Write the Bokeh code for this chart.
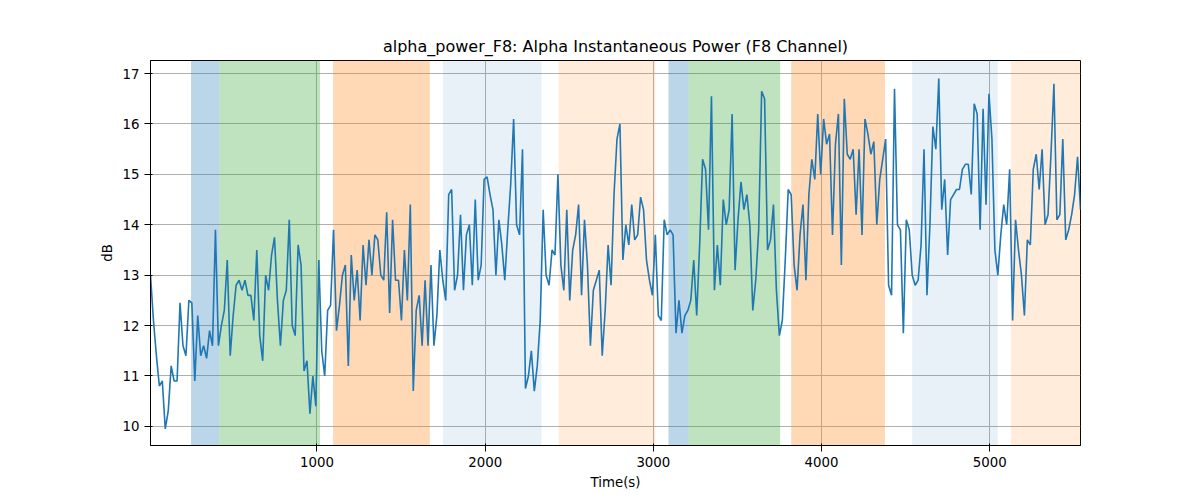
from bokeh.plotting import figure
from bokeh.models import BoxAnnotation, FixedTicker
from bokeh.embed import file_html
from bokeh.resources import INLINE
import numpy as np

values = [13.0,12.1,11.4,10.8,10.9, 9.95,10.3,11.2,10.9,10.9, 12.45,11.6,11.4,12.5,12.45,
 10.9,12.2,11.4,11.6,11.35, 11.9,11.6,13.9,11.6,12.0, 12.3,13.3,11.4,12.2,12.8,
 12.9,12.7,12.9,12.6,12.6, 12.1,13.5,11.8,11.3,13.0, 12.7,13.4,13.75,12.5,11.6,
 12.5,12.7,14.1,12.0,11.8, 13.6,13.2,11.1,11.3,10.25,11.0,10.4, 13.3,11.5,11.0,12.3,12.4,
 13.9,11.9,12.4,13.0,13.2, 11.2,13.4,12.5,13.1,12.1, 13.6,12.8,13.7,13.0,13.8,
 13.7,13.0,12.9,14.25,12.25, 14.1,12.9,12.9,12.1,13.5, 12.5,14.4,10.7,12.3,12.6,
 11.6,12.9,11.6,13.2,11.6, 12.2,13.5,12.9,12.5,14.6, 14.7,12.7,13.0,14.2,12.7,
 13.8,14.0,12.8,14.5,12.9, 13.2,14.9,14.95,14.6,14.3, 13.0,14.1,13.6,12.9,13.9,
 14.8,16.1,14.0,13.8,15.5, 10.75,11.0,11.5,10.7,11.2, 12.1,14.3,13.0,12.8,13.5,
 13.4,15.0,13.2,12.7,14.3, 12.5,13.5,13.8,14.4,12.6, 14.1,13.2,11.6,12.7,12.9,
 13.1,11.4,12.3,13.6,12.8, 14.6,15.7,16.0,13.3,14.0, 13.6,14.4,13.7,13.8,14.55,
 14.3,13.3,12.9,12.6,13.8, 12.2,12.1,14.1,13.8,13.9, 13.8,11.85,12.5,11.85,12.2,
 12.3,12.5,13.3,12.2,13.6, 15.3,15.1,13.9,16.55,12.7, 13.6,12.8,14.5,14.0,14.3,
 16.2,13.1,14.1,14.85,14.3, 14.6,14.0,12.3,12.9,13.9, 16.65,16.5,13.5,13.7,14.4,
 12.7,11.8,12.1,13.3,14.7, 14.6,13.2,12.7,13.8,14.4, 12.9,14.6,15.3,14.9,16.2,
 15.0,16.1,15.6,15.8,13.8, 15.6,16.2,13.2,16.5,15.4, 15.3,15.5,14.2,15.5,13.8,
 16.1,15.8,15.4,15.65,14.0, 14.9,15.3,15.7,12.8,12.6, 16.7,14.0,13.9,11.85,14.1,
 13.9,13.0,12.8,12.9,13.6, 15.5,12.6,14.0,15.95,15.5, 16.9,14.3,14.9,13.4,14.5,
 14.6,14.7,14.7,15.1,15.2, 15.2,14.6,16.4,16.2,13.9,16.3,14.4,16.6,15.7,13.5,13.0,
 13.8,14.4,14.0,15.1,12.1,14.1,13.5,13.0,12.2,13.7,13.6,15.1,15.4,14.7,15.5,14.0,
 14.2,15.4,16.8,14.1,14.2,15.7,13.7,13.9,14.2,14.6,15.35,14.3]
times = np.linspace(10, 5540, len(values))

spans = [(251, 419, "#1f77b4", 0.3), (419, 1018, "#2ca02c", 0.3), (1096, 1671, "#ff7f0e", 0.3),
         (1749, 2335, "#1f77b4", 0.1), (2437, 3012, "#ff7f0e", 0.15), (3090, 3210, "#1f77b4", 0.3),
         (3210, 3754, "#2ca02c", 0.3), (3820, 4377, "#ff7f0e", 0.3), (4539, 5048, "#1f77b4", 0.1),
         (5126, 5570, "#ff7f0e", 0.15)]

p = figure(width=1184, height=492, output_backend="svg", toolbar_location=None,
           x_range=(10, 5540), y_range=(9.62, 17.26),
           title="alpha_power_F8: Alpha Instantaneous Power (F8 Channel)",
           x_axis_label="Time(s)", y_axis_label="dB",
           min_border_left=150, min_border_right=104, min_border_top=60, min_border_bottom=31)
p.title.align = "center"
p.title.text_font_style = "normal"
p.title.text_font_size = "12pt"
p.title.text_font = "DejaVu Sans"
p.title.text_color = "black"
for s, e, c, a in spans:
    p.add_layout(BoxAnnotation(left=s, right=e, fill_color=c, fill_alpha=a, line_alpha=0, level="underlay"))
p.line(times, values, line_color="#1f77b4", line_width=1.6)
p.xaxis.ticker = FixedTicker(ticks=[1000, 2000, 3000, 4000, 5000])
p.yaxis.ticker = FixedTicker(ticks=list(range(10, 18)))
for ax in (p.xaxis, p.yaxis):
    ax.axis_label_text_font_style = "normal"
    ax.axis_label_text_font = "DejaVu Sans"
    ax.major_label_text_font = "DejaVu Sans"
    ax.major_label_text_font_size = "10pt"
    ax.axis_label_text_font_size = "10pt"
    ax.major_label_text_color = "black"
    ax.axis_label_text_color = "black"
    ax.minor_tick_line_color = None
p.grid.grid_line_color = "#b0b0b0"
p.grid.grid_line_alpha = 1
p.outline_line_color = "black"
open("out.html", "w").write(file_html(p, INLINE))
